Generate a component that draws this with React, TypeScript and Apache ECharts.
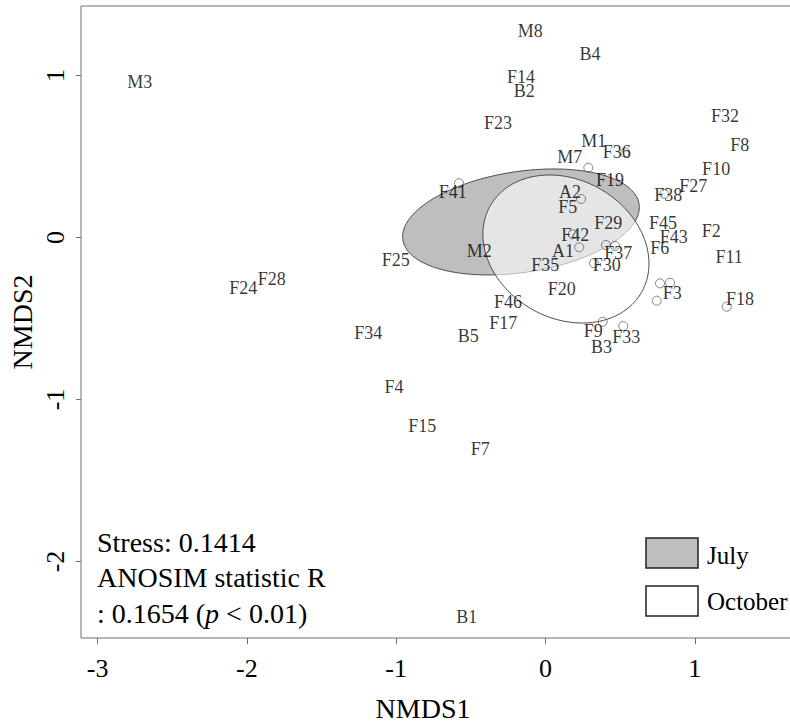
import React, { useEffect, useRef } from 'react';
import * as echarts from 'echarts';

const FONT = "'Liberation Serif', 'Times New Roman', serif";

// Site labels (NMDS scores)
const siteNames = ['M8','B4','F14','B2','F23','F32','F8','M1','F36','M7','F10','F19','F27','F38','F41','A2','F5','F29','F45','F2','F42','F43','F6','M2','A1','F37','F11','F25','F35','F30','F20','F3','F46','F17','B5','F18','F9','F33','B3','F4','F15','F7','M3','F24','F28','F34','B1'];
const siteX = [-0.102,0.298,-0.164,-0.142,-0.318,1.202,1.301,0.323,0.477,0.162,1.143,0.432,0.990,0.823,-0.621,0.164,0.149,0.421,0.787,1.110,0.200,0.859,0.765,-0.443,0.117,0.488,1.230,-1.003,-0.001,0.410,0.109,0.849,-0.251,-0.283,-0.517,1.303,0.320,0.541,0.376,-1.015,-0.825,-0.437,-2.718,-2.024,-1.834,-1.187,-0.527];
const siteY = [1.275,1.130,0.988,0.904,0.708,0.750,0.571,0.594,0.530,0.494,0.422,0.356,0.315,0.264,0.283,0.283,0.187,0.088,0.091,0.043,0.017,0.004,-0.065,-0.085,-0.085,-0.096,-0.119,-0.139,-0.168,-0.168,-0.317,-0.340,-0.396,-0.527,-0.609,-0.381,-0.574,-0.614,-0.677,-0.923,-1.164,-1.306,0.960,-0.310,-0.254,-0.591,-2.340];

// Open circle points
const pointX = [-0.579,0.287,0.534,0.238,0.182,0.226,0.405,0.466,0.325,0.796,0.767,0.834,0.745,1.214,0.383,0.521];
const pointY = [0.335,0.431,0.525,0.238,0.020,-0.060,-0.046,-0.052,-0.159,0.269,-0.283,-0.279,-0.390,-0.427,-0.520,-0.546];

// Group ellipses: centre and conjugate semi-axis vectors (data units)
const groups = ['July', 'October'];
const ellipseCenters = [[-0.164, 0.096], [0.137, -0.071]];
const ellipseAxisU = [[0.791, 0.110], [0.506, -0.268]];
const ellipseAxisV = [[0.050, -0.308], [-0.231, -0.370]];
const groupFill = ['#bebebe', 'rgba(255,255,255,0.6)'];
const legendFill = ['#bebebe', '#ffffff'];

const xTicks = [-3, -2, -1, 0, 1];
const yTicks = [-2, -1, 0, 1];

const annotationLines = ['Stress: 0.1414', 'ANOSIM statistic R', ': 0.1654 ({i|p} < 0.01)'];

export default function App() {
  const ref = useRef<HTMLDivElement>(null);
  useEffect(() => {
    if (!ref.current) return;
    const chart = echarts.init(ref.current, null, { renderer: 'svg' });

    const ellipseSeries = groups.map((g, gi) => ({
      type: 'custom',
      name: g,
      z: 1 + gi,
      encode: { x: 0, y: 1 },
      data: [[ellipseCenters[gi][0], ellipseCenters[gi][1], ellipseAxisU[gi][0], ellipseAxisU[gi][1], ellipseAxisV[gi][0], ellipseAxisV[gi][1]]],
      renderItem: (params: any, api: any) => {
        const cx = api.value(0), cy = api.value(1);
        const ux = api.value(2), uy = api.value(3);
        const vx = api.value(4), vy = api.value(5);
        const pts: number[][] = [];
        for (let k = 0; k <= 200; k++) {
          const t = (k / 200) * Math.PI * 2;
          pts.push(api.coord([cx + ux * Math.cos(t) + vx * Math.sin(t), cy + uy * Math.cos(t) + vy * Math.sin(t)]));
        }
        return {
          type: 'polygon',
          shape: { points: pts },
          style: { fill: groupFill[gi], stroke: '#4a4a4a', lineWidth: 1 },
        };
      },
    }));

    const option: any = {
      animation: false,
      backgroundColor: '#ffffff',
      grid: {
        left: 81, top: 6, width: 715, height: 632,
        show: true, borderColor: '#707070', borderWidth: 1,
        backgroundColor: 'transparent',
        outerBoundsMode: 'none',
      },
      xAxis: {
        type: 'value', min: -3.111, max: 1.678,
        name: 'NMDS1', nameLocation: 'middle', nameGap: 56, nameMoveOverlap: false,
        nameTextStyle: { fontFamily: FONT, fontSize: 28, color: '#000', padding: [0, 31, 0, 0] },
        axisLine: { show: false, onZero: false },
        splitLine: { show: false },
        axisTick: { show: true, length: 6, lineStyle: { color: '#707070', width: 1 }, customValues: xTicks },
        axisLabel: { customValues: xTicks, fontFamily: FONT, fontSize: 26, color: '#000', margin: 17 },
      },
      yAxis: {
        type: 'value', min: -2.472, max: 1.429,
        name: 'NMDS2', nameLocation: 'middle', nameGap: 45, nameMoveOverlap: false,
        nameTextStyle: { fontFamily: FONT, fontSize: 28, color: '#000' },
        axisLine: { show: false, onZero: false },
        splitLine: { show: false },
        axisTick: { show: true, length: 5, lineStyle: { color: '#707070', width: 1 }, customValues: yTicks },
        axisLabel: { customValues: yTicks, rotate: 90, fontFamily: FONT, fontSize: 26, color: '#000', margin: 13 },
      },
      series: [
        ...ellipseSeries,
        {
          type: 'scatter',
          name: 'points',
          z: 5,
          symbol: 'circle',
          symbolSize: 9,
          itemStyle: { color: 'transparent', borderColor: '#555', borderWidth: 0.9 },
          data: pointX.map((x, i) => [x, pointY[i]]),
        },
        {
          type: 'scatter',
          name: 'sites',
          z: 6,
          symbol: 'circle',
          symbolSize: 1,
          itemStyle: { color: 'transparent' },
          label: {
            show: true, position: 'inside', formatter: '{b}',
            fontFamily: FONT, fontSize: 18, color: '#000',
          },
          data: siteNames.map((n, i) => ({ name: n, value: [siteX[i], siteY[i]] })),
        },
      ],
      graphic: [
        ...annotationLines.map((t, i) => ({
          type: 'text',
          left: 97,
          top: 545 + i * 35.5 - 17,
          style: {
            text: t,
            fontFamily: FONT, fontSize: 28, fill: '#000',
            rich: { i: { fontFamily: FONT, fontSize: 28, fontStyle: 'italic', fill: '#000' } },
          },
        })),
        ...groups.map((g, i) => ({
          type: 'rect',
          shape: { x: 646, y: 538 + i * 48, width: 52, height: 30 },
          style: { fill: legendFill[i], stroke: '#222', lineWidth: 1.5 },
        })),
        ...groups.map((g, i) => ({
          type: 'text',
          x: 707, y: 555 + i * 46,
          style: { text: g, fontFamily: FONT, fontSize: 25, fill: '#000', textVerticalAlign: 'middle', textAlign: 'left' },
        })),
      ],
    };
    chart.setOption(option);
    return () => chart.dispose();
  }, []);
  return (
    <div style={{ position: 'fixed', left: 0, top: 0, width: 790, height: 723, overflow: 'hidden', background: '#fff' }}>
      <div ref={ref} style={{ width: 790, height: 723 }} />
    </div>
  );
}
